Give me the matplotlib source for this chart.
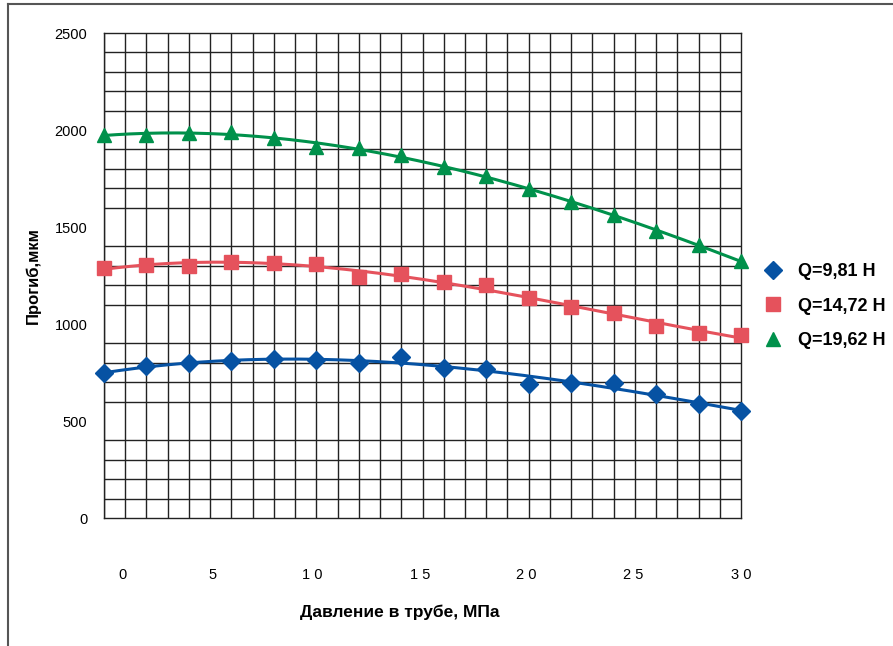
import numpy as np
import matplotlib
matplotlib.use("Agg")
import matplotlib.pyplot as plt
from matplotlib.lines import Line2D

# data
pressure = [0, 2, 4, 6, 8, 10, 12, 14, 16, 18, 20, 22, 24, 26, 28, 30]
q981 = [745, 785, 800, 808, 820, 815, 800, 830, 775, 770, 690, 695, 695, 640, 590, 550]
q1472 = [1290, 1305, 1300, 1320, 1315, 1310, 1240, 1260, 1215, 1200, 1135, 1090, 1055, 990, 955, 945]
q1962 = [1975, 1975, 1985, 1990, 1960, 1910, 1905, 1870, 1810, 1763, 1695, 1630, 1562, 1480, 1405, 1325]
series_names = ["Q=9,81 Н", "Q=14,72 Н", "Q=19,62 Н"]
x_tick_labels = ["0", "5", "1 0", "1 5", "2 0", "2 5", "3 0"]
x_tick_pos = [0.85, 5.1, 9.8, 14.9, 19.9, 24.9, 30]
y_ticks = [0, 500, 1000, 1500, 2000, 2500]

colors = ["#0652A3", "#E5525C", "#00914B"]
markers = ["D", "s", "^"]
msizes = [9, 10, 10.5]

fig = plt.figure(figsize=(8.93, 6.46), dpi=100)
ax = fig.add_axes([0.1165, 0.1981, 0.7133, 0.7508])

# outer frame (top and left visible)
fig.add_artist(Line2D([8 / 893, 1.0], [1 - 4 / 646] * 2, color="#555555", lw=1.5))
fig.add_artist(Line2D([8 / 893] * 2, [0, 1 - 4 / 646], color="#555555", lw=1.5))

xs = np.array(pressure)
xf = np.linspace(0, 30, 200)
handles = []
for ys, c, m, ms, name in zip([q981, q1472, q1962], colors, markers, msizes, series_names):
    coef = np.polyfit(xs, ys, 3)
    ax.plot(xf, np.polyval(coef, xf), color=c, lw=2.2, zorder=3)
    ax.plot(xs, ys, linestyle="none", marker=m, markersize=ms, color=c,
            clip_on=False, zorder=4)
    handles.append(Line2D([], [], linestyle="none", marker=m, markersize=ms, color=c))

ax.set_xlim(0, 30)
ax.set_ylim(0, 2500)
ax.set_xticks(np.arange(0, 31, 1), minor=True)
ax.set_yticks(np.arange(0, 2501, 100), minor=True)
ax.grid(which="minor", color="#222222", lw=1.0)
ax.set_axisbelow(True)
ax.set_yticks(y_ticks)
ax.set_yticklabels([str(v) for v in y_ticks], fontsize=10.5, family="Liberation Sans")
ax.set_xticks(x_tick_pos)
ax.set_xticklabels(x_tick_labels, fontsize=10.5, family="Liberation Sans")
ax.tick_params(axis="y", which="both", length=0, pad=12)
ax.tick_params(axis="x", which="both", length=0, pad=36)
for s in ax.spines.values():
    s.set_color("#222222")
    s.set_linewidth(1.0)

ax.set_ylabel("Прогиб,мкм", fontsize=12, fontweight="bold", family="Liberation Sans",
              labelpad=10)
fig.text(400 / 893, 1 - 612 / 646, "Давление в трубе, МПа", fontsize=12.5,
         fontweight="bold", family="Liberation Sans", ha="center", va="center")

fig.legend(handles, series_names, loc="center left", bbox_to_anchor=(0.837, 0.526),
           frameon=False, handlelength=1.0, handletextpad=0.9, labelspacing=0.98,
           prop={"size": 13, "weight": "bold", "family": "Liberation Sans"})

fig.savefig("out.png", dpi=100)
